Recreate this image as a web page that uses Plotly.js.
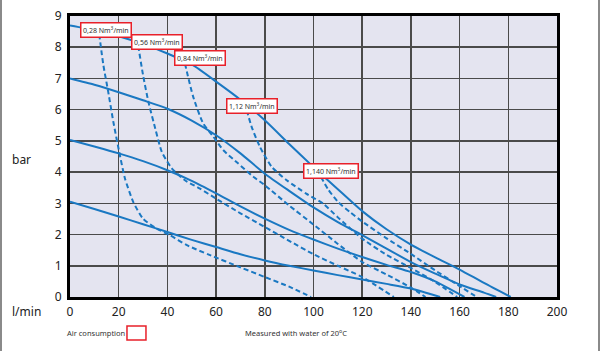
<!DOCTYPE html>
<html>
<head>
<meta charset="utf-8">
<script src="https://cdn.plot.ly/plotly-3.0.1.min.js"></script>
<style>
  html, body { margin: 0; padding: 0; background: #fff; }
  #wrap { position: relative; width: 600px; height: 351px; }
  #chart { width: 600px; height: 351px; }
  #edge { position: absolute; left: 0; top: 0; width: 596px; height: 351px;
          border-left: 2px solid #8a8a8a; border-right: 2px solid #8a8a8a; pointer-events: none; }
</style>
</head>
<body>
<div id="wrap"><div id="chart"></div><div id="edge"></div></div>
<script>
// Pump curves (solid): flow l/min vs head bar
const flowA = [0,10,20,30,40,50,60,70,80,90,100,110,120,130,140,150,160,170,181];
const barA  = [8.7,8.55,8.35,8.1,7.8,7.45,6.9,6.32,5.66,4.9,4.16,3.45,2.75,2.17,1.68,1.27,0.88,0.45,0];
const flowB = [0,10,20,30,40,50,60,70,80,90,100,110,120,130,140,150,160,170,175];
const barB  = [7.0,6.8,6.56,6.3,6.03,5.65,5.18,4.6,3.95,3.4,2.87,2.4,1.98,1.55,1.12,0.75,0.4,0.14,0];
const flowC = [0,10,20,30,40,50,60,70,80,90,100,110,120,130,140,150,162];
const barC  = [5.03,4.82,4.6,4.35,4.06,3.72,3.32,2.9,2.51,2.15,1.84,1.55,1.28,1.03,0.8,0.5,0];
const flowD = [0,10,20,30,40,50,60,70,80,90,100,110,120,130,140,152];
const barD  = [3.05,2.82,2.58,2.33,2.08,1.83,1.6,1.37,1.17,1.0,0.85,0.7,0.56,0.42,0.27,0];

// Air consumption curves (dashed)
const airLabels = ["0,28", "0,56", "0,84", "1,12", "1,140"];
const flow1 = [12,13.7,15.7,17.8,20.2,22.6,26,30,35.6,41,48,57.5,70,80,90,99];
const bar1  = [8.42,7.43,6.57,5.61,4.65,3.79,3.04,2.51,2.19,1.98,1.66,1.34,0.95,0.64,0.33,0];
const flow2 = [28,30,32.2,35,37.7,41.8,47.2,53.4,60,70,80,90,100,110,120,133];
const bar2  = [8.05,7.11,6.25,5.4,4.65,4.12,3.74,3.47,3.15,2.68,2.24,1.8,1.37,1.0,0.64,0];
const flow3 = [47.2,50.6,54.7,58.9,63,69,75.3,80,90,100,110,120,130,140,146];
const bar3  = [7.48,6.41,5.56,5.13,4.7,4.28,3.85,3.58,2.93,2.32,1.7,1.12,0.72,0.3,0];
const flow4 = [72.6,74.6,78,82.8,89,97,104,110,120,130,140,150,159];
const bar4  = [5.98,5.45,4.81,4.17,3.74,3.31,2.99,2.55,1.87,1.35,0.93,0.48,0];
const flow5 = [103,106,110,115,120,130,140,150,160,167];
const bar5  = [3.85,3.45,3.05,2.72,2.42,1.88,1.38,0.85,0.35,0];

const xTicks = [0,20,40,60,80,100,120,140,160,180,200];
const yTicks = [0,1,2,3,4,5,6,7,8,9];

const blue = '#1a78c2';
const solid = (x, y) => ({x, y, type: 'scatter', mode: 'lines',
  line: {color: blue, width: 2, shape: 'spline', smoothing: 0.6}, hoverinfo: 'skip', showlegend: false});
const dashed = (x, y) => ({x, y, type: 'scatter', mode: 'lines',
  line: {color: blue, width: 2, dash: '5px,3px', shape: 'spline', smoothing: 0.6}, hoverinfo: 'skip', showlegend: false});

const traces = [
  solid(flowA, barA), solid(flowB, barB), solid(flowC, barC), solid(flowD, barD),
  dashed(flow1, bar1), dashed(flow2, bar2), dashed(flow3, bar3), dashed(flow4, bar4), dashed(flow5, bar5)
];

// label anchor positions (data coords)
const labelPos = [[14.8, 8.55], [35.9, 8.16], [53.2, 7.65], [74.9, 6.13], [107.2, 4.03]];
const annotations = airLabels.map((t, i) => ({
  x: labelPos[i][0], y: labelPos[i][1], xref: 'x', yref: 'y',
  xanchor: 'center', yanchor: 'middle',
  text: t + ' Nm<sup>3</sup>/min', showarrow: false,
  font: {family: 'Noto Sans', size: 7, color: '#333'},
  bgcolor: '#ffffff', bordercolor: '#e8202a', borderwidth: 1.5, borderpad: 1.5
}));
annotations.push(
  {xref: 'paper', yref: 'paper', x: -0.099, y: 0.488, xanchor: 'center', yanchor: 'middle',
   text: 'bar', showarrow: false, font: {family: 'Noto Sans', size: 12, color: '#222'}},
  {xref: 'paper', yref: 'paper', x: -0.09, y: -0.05, xanchor: 'center', yanchor: 'middle',
   text: 'l/min', showarrow: false, font: {family: 'Noto Sans', size: 12, color: '#222'}},
  {xref: 'paper', yref: 'paper', x: -0.011, y: -0.128, xanchor: 'left', yanchor: 'middle', text: 'Air consumption', showarrow: false,
   font: {family: 'Noto Sans', size: 7.5, color: '#333'}},
  {xref: 'paper', yref: 'paper', x: 0.355, y: -0.128, xanchor: 'left', yanchor: 'middle', text: 'Measured with water of 20<sup>o</sup>C', showarrow: false,
   font: {family: 'Noto Sans', size: 7.5, color: '#333'}}
);

const layout = {
  width: 600, height: 351,
  margin: {l: 70, r: 43, t: 16, b: 54},
  paper_bgcolor: '#ffffff', plot_bgcolor: '#e4e4f0',
  showlegend: false,
  xaxis: {range: [0, 200], tickvals: xTicks, ticktext: xTicks.map(String),
          showgrid: true, gridcolor: '#4a4a4a', gridwidth: 1.5, zeroline: false,
          showline: true, linecolor: '#000', linewidth: 3, mirror: true,
          ticks: '', ticklabelstandoff: 2,
          tickfont: {family: 'Noto Sans', size: 12, color: '#222'}, fixedrange: true},
  yaxis: {range: [0, 9], tickvals: yTicks, ticktext: yTicks.map(String),
          showgrid: true, gridcolor: '#4a4a4a', gridwidth: 1.5, zeroline: false,
          showline: true, linecolor: '#000', linewidth: 3, mirror: true,
          ticks: '', ticklabelstandoff: 3,
          tickfont: {family: 'Noto Sans', size: 12, color: '#222'}, fixedrange: true},
  shapes: [
    {type: 'rect', xref: 'paper', yref: 'paper', x0: 0.117, x1: 0.156, y0: -0.153, y1: -0.103,
     line: {color: '#e8202a', width: 1.5}, fillcolor: 'rgba(0,0,0,0)'}
  ],
  annotations
};

Plotly.newPlot('chart', traces, layout, {staticPlot: true, displayModeBar: false});
</script>
</body>
</html>
